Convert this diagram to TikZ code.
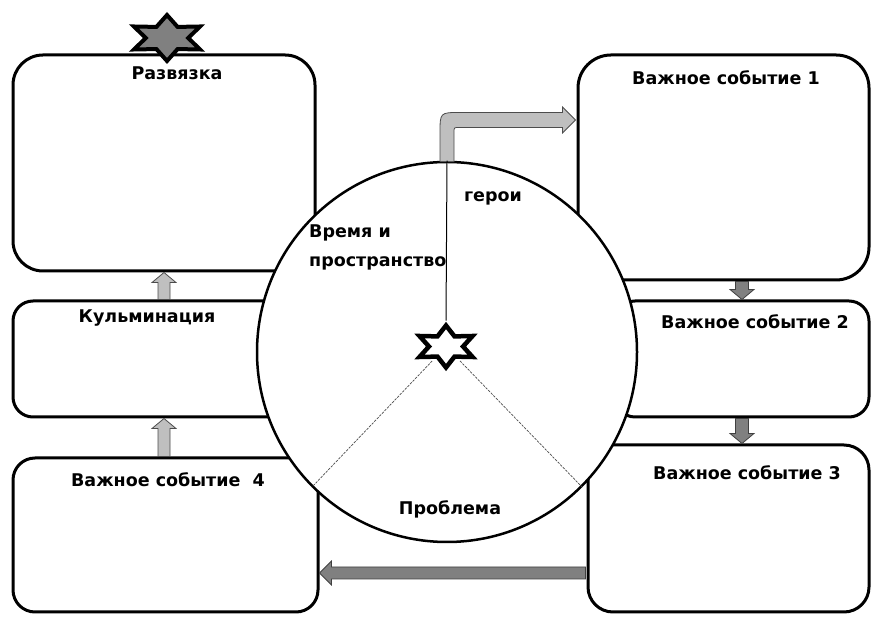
\documentclass[tikz,border=0pt]{standalone}
\usepackage{fontspec}
\setmainfont{DejaVu Sans}
\usetikzlibrary{calc,shapes.geometric}

% block arrow: style, from, to, half shaft width, half head width, head length
\newcommand\blockarrow[6][]{%
  \path ($(#3)!#6!(#2)$) coordinate (ba-neck);
  \draw[#1] ($(#2)!#4!90:(#3)$) -- ($(ba-neck)!#4!90:(#3)$)
    -- ($(ba-neck)!#5!90:(#3)$) -- (#3) -- ($(ba-neck)!#5!-90:(#3)$)
    -- ($(ba-neck)!#4!-90:(#3)$) -- ($(#2)!#4!-90:(#3)$) -- cycle;
}

\begin{document}
\begin{tikzpicture}[x=1pt,y=1pt,
  box/.style={draw=black, line width=3pt, fill=white, inner sep=0pt},
  lbl/.style={font=\fontsize{17.5}{29}\selectfont\bfseries, inner sep=0pt, text=black},
  lightarr/.style={fill=black!25, draw=black!70, line width=0.8pt, line join=miter},
  darkarr/.style={fill=black!50, draw=black!75, line width=0.8pt, line join=miter},
  spoke/.style={draw=black!70, line width=0.7pt, dash pattern=on 2.5pt off 1.2pt},
  hexstar/.style={star, star points=6, star point ratio=1.8, inner sep=0pt, draw=black, transform shape},
]
\useasboundingbox (0,0) rectangle (874,617);

% story boxes
\node[box, rounded corners=30pt, minimum width=302pt, minimum height=216pt] (razv) at (164,454) {};
\node[box, rounded corners=20pt, minimum width=302pt, minimum height=116pt] (kulm) at (164,258) {};
\node[box, rounded corners=22pt, minimum width=305pt, minimum height=154pt] (vs4) at (165.5,82) {};
\node[box, rounded corners=33pt, minimum width=291pt, minimum height=225pt] (vs1) at (723.5,449.5) {};
\node[box, rounded corners=20pt, minimum width=254pt, minimum height=116pt] (vs2) at (742,258) {};
\node[box, rounded corners=25pt, minimum width=281pt, minimum height=167pt] (vs3) at (728.5,88.5) {};

% central wheel
\node[circle, draw=black, line width=2.5pt, fill=white, minimum size=380pt, inner sep=0pt] (wheel) at (447,265) {};

% bent arrow from the wheel to the first event
\coordinate (bs) at (wheel.north);
\coordinate (bt) at ([xshift=-1pt,yshift=47.5pt]vs1.west);
\coordinate (bc) at (bs |- bt);
\draw[lightarr] ($(bs)+(-7,-1)$) -- ($(bc)+(-7,-13)$) .. controls ($(bc)+(-7,7.5)$) .. ($(bc)+(13,7.5)$)
  -- ($(bt)+(-13,7.5)$) -- ($(bt)+(-13,13)$) -- (bt) -- ($(bt)+(-13,-13)$) -- ($(bt)+(-13,-7.5)$)
  -- ($(bc)+(12,-7.5)$) .. controls ($(bc)+(7,-7.5)$) .. ($(bc)+(7,-12.5)$) -- ($(bs)+(7,-1)$) -- cycle;

% hub star and spokes
\node[hexstar, minimum size=42pt, line width=4.5pt, fill=white, xscale=1.46] (hub) at (446,270.5) {};
\draw[line width=1pt] (wheel.north) -- (hub.north);
\draw[spoke, shorten <=20pt] (hub.center) -- (wheel.225);
\draw[spoke, shorten <=20pt] (hub.center) -- (wheel.315);

% texts inside the wheel
\node[lbl] (heroes) at (493,419) {герои};
\node[lbl, align=left, anchor=west] (timespace) at (309,369.5) {Время и\\пространство};
\node[lbl] (problem) at (450,108) {Проблема};

% box titles
\node[lbl] (t-razv) at (177,544) {Развязка};
\node[lbl] (t-kulm) at (147,299) {Кульминация};
\node[lbl] (t-vs4) at (168,137) {Важное событие~~4};
\node[lbl] (t-vs1) at (726,539) {Важное событие 1};
\node[lbl] (t-vs2) at (755,295) {Важное событие 2};
\node[lbl] (t-vs3) at (747,144) {Важное событие 3};

% arrows between boxes
\coordinate (e4k) at (vs4.north -| kulm.south);
\blockarrow[lightarr]{e4k}{kulm.south}{6pt}{12pt}{10pt}
\blockarrow[lightarr]{kulm.north}{razv.south}{6pt}{12pt}{10pt}
\coordinate (e12) at (vs1.south -| vs2.north);
\blockarrow[darkarr]{e12}{vs2.north}{6.5pt}{12pt}{10pt}
\coordinate (e23) at (vs3.north -| vs2.south);
\blockarrow[darkarr]{vs2.south}{e23}{6.5pt}{12pt}{10pt}
\coordinate (e34s) at ($(vs3.south west)+(-1,40.5)$);
\coordinate (e34t) at (vs4.east |- e34s);
\blockarrow[darkarr]{e34s}{e34t}{6pt}{12pt}{12pt}

% star on top of the resolution box
\node[hexstar, minimum size=46pt, line width=4pt, fill=black!50, xscale=1.66] (crown) at (167,579) {};
\end{tikzpicture}
\end{document}
